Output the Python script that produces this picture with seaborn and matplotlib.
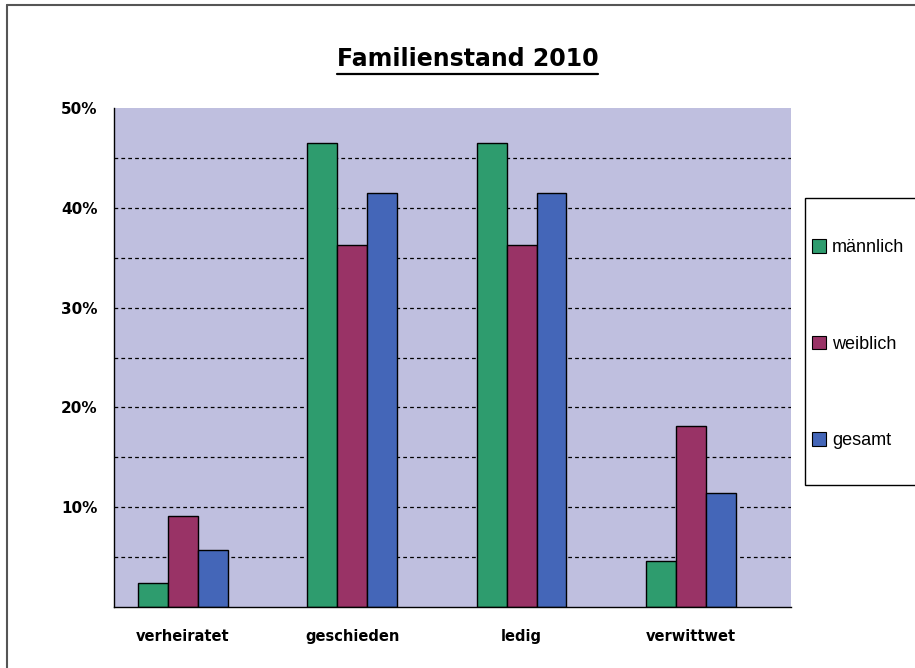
import seaborn as sns
import pandas as pd
import numpy as np
import matplotlib.pyplot as plt
from matplotlib.lines import Line2D
from matplotlib.patches import Rectangle

# Daten
kategorien = ['verheiratet', 'geschieden', 'ledig', 'verwittwet']
maennlich = [2.4, 46.5, 46.5, 4.6]
weiblich = [9.1, 36.3, 36.3, 18.1]
gesamt = [5.7, 41.5, 41.5, 11.4]
serien = ['männlich', 'weiblich', 'gesamt']
farben = ['#2e9c6e', '#993366', '#4466b8']
y_ticks = [10, 20, 30, 40, 50]
y_labels = ['10%', '20%', '30%', '40%', '50%']

df = pd.DataFrame({
    'Familienstand': kategorien * 3,
    'Anteil': maennlich + weiblich + gesamt,
    'Geschlecht': [s for s in serien for _ in kategorien],
})

sns.set_style('white')
plt.rcParams['font.family'] = ['DejaVu Sans']
plt.rcParams['text.color'] = 'black'
plt.rcParams['xtick.color'] = 'black'
plt.rcParams['ytick.color'] = 'black'

fig = plt.figure(figsize=(9.15, 6.68), dpi=100)
fig.patch.set_facecolor('white')
ax = fig.add_axes([0.1246, 0.0913, 0.740, 0.747])
ax.set_facecolor('#bfbfdf')

sns.barplot(data=df, x='Familienstand', y='Anteil', hue='Geschlecht',
            palette=farben, order=kategorien, hue_order=serien,
            width=0.53, edgecolor='black', linewidth=1.0,
            saturation=1, ax=ax, zorder=3)

# Excel verschiebt die Balkengruppen leicht nach links
d = 0.092
ax.set_ylim(0, 50)
ax.set_xlim(-0.5 + d, 3.5 + d)
ax.set_yticks(y_ticks)
ax.set_yticklabels(y_labels, fontsize=11, fontweight='bold')
for y in np.arange(5, 50, 5):
    ax.axhline(y, color='black', linestyle=(0, (3, 2.5)), linewidth=0.9, zorder=1)

ax.set_xticks(range(len(kategorien)))
ax.set_xticklabels(kategorien, fontsize=10.5, fontweight='bold')
ax.set_xticks([-0.5 + d + k for k in range(5)], minor=True)
ax.tick_params(axis='x', which='major', length=0, pad=16)
ax.tick_params(axis='x', which='minor', length=6, width=1, color='black', direction='out')
ax.tick_params(axis='y', which='major', length=6, width=1, color='black', direction='out', pad=6)
ax.set_xlabel('')
ax.set_ylabel('')

for side in ['top', 'right']:
    ax.spines[side].set_visible(False)
for side in ['left', 'bottom']:
    ax.spines[side].set_color('black')
    ax.spines[side].set_linewidth(1.0)
    ax.spines[side].set_zorder(4)

# Legende (Rahmen separat, da er rechts angeschnitten ist)
ax.get_legend().remove()
fig.add_artist(Rectangle((805 / 915, (668 - 485) / 668), 0.2, (485 - 198) / 668,
                         transform=fig.transFigure, facecolor='white',
                         edgecolor='black', linewidth=1.0, zorder=1))
handles = [Rectangle((0, 0), 1, 1, facecolor=c, edgecolor='black', linewidth=0.8) for c in farben]
leg = fig.legend(handles, serien, loc='upper left', bbox_to_anchor=(812 / 915, (668 - 239) / 668),
                 frameon=False, labelspacing=4.4, handlelength=0.8, handleheight=0.8,
                 handletextpad=0.3, borderpad=0, borderaxespad=0,
                 prop={'family': 'Liberation Sans', 'size': 13})
leg.set_zorder(2)

# Titel mit Unterstreichung
titel = fig.text(0.511, 0.911, 'Familienstand 2010', ha='center', va='center',
                 fontsize=17, fontweight='bold')
fig.canvas.draw()
bb = titel.get_window_extent().transformed(fig.transFigure.inverted())
fig.add_artist(Line2D([bb.x0, bb.x1], [0.889, 0.889],
                      transform=fig.transFigure, color='black', linewidth=1.6))

# Rahmen (nur oben und links sichtbar)
fig.add_artist(Line2D([7 / 915, 1.0], [1 - 5 / 668, 1 - 5 / 668],
                      transform=fig.transFigure, color='#555555', linewidth=1.5))
fig.add_artist(Line2D([7 / 915, 7 / 915], [0.0, 1 - 5 / 668],
                      transform=fig.transFigure, color='#555555', linewidth=1.5))

fig.savefig('out.png', dpi=100)
